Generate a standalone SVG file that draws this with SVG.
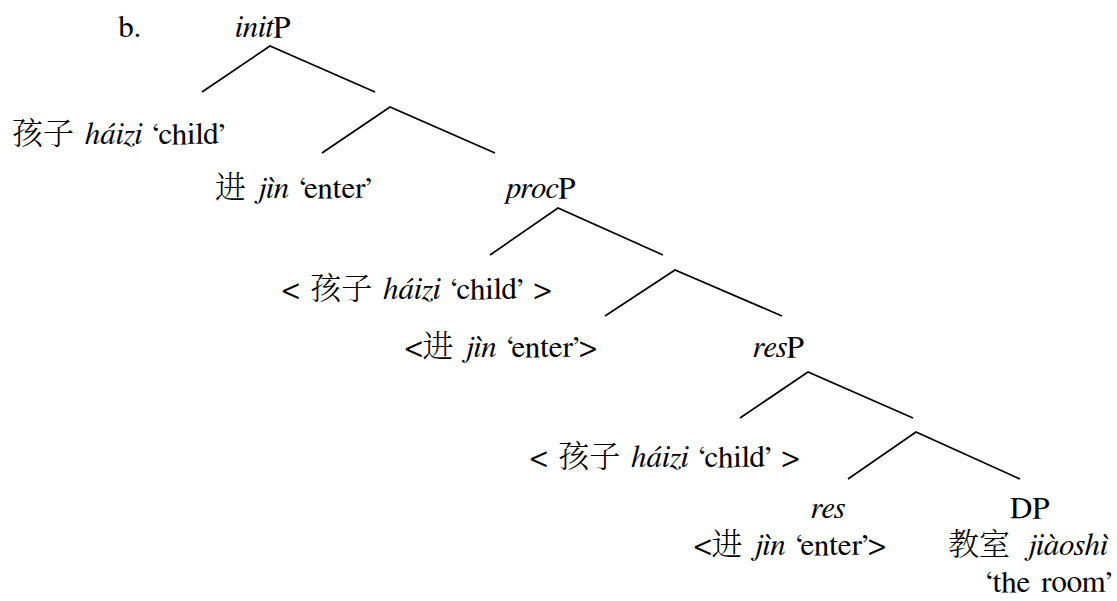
<svg xmlns="http://www.w3.org/2000/svg" width="1117" height="601" viewBox="0 0 1117 601">
<style>
text { font-family: FreeSerif, "Noto Serif", "Liberation Serif", serif; font-size: 31px; fill: #000; word-spacing: 3px; }
.i { font-style: italic; }
.zh { font-family: "Noto Serif CJK SC", "Noto Sans CJK SC", sans-serif; font-weight: 300; }
.e { stroke: #000; stroke-width: 1.7; fill: none; }
</style>
<rect width="1117" height="601" fill="#fff"/>
<g id="connectors">
  <polyline class="e" points="202,92 270,46 375,92"/>
  <polyline class="e" points="322,153 390,107 495,153"/>
  <polyline class="e" points="490,255 558,208 663,255"/>
  <polyline class="e" points="605,316 675,270 782,316"/>
  <polyline class="e" points="740,418 808,372 913,418"/>
  <polyline class="e" points="848,479 916,432 1020,479"/>
</g>
<g id="label-b"><text x="118" y="37">b.</text></g>
<g id="initP"><text x="235" y="37"><tspan class="i">init</tspan>P</text></g>
<g id="spec1"><text x="12" y="144"><tspan class="zh">孩子</tspan> <tspan class="i">háizi</tspan> ‘child’</text></g>
<g id="init-head"><text x="215" y="198"><tspan class="zh">进</tspan> <tspan class="i">jìn</tspan> ‘enter’</text></g>
<g id="procP"><text x="506" y="198"><tspan class="i">proc</tspan>P</text></g>
<g id="spec2"><text x="282" y="299">&lt; <tspan class="zh">孩子</tspan> <tspan class="i">háizi</tspan> ‘child’ &gt;</text></g>
<g id="proc-head"><text x="405" y="357">&lt;<tspan class="zh">进</tspan> <tspan class="i">jìn</tspan> ‘enter’&gt;</text></g>
<g id="resP"><text x="753" y="357"><tspan class="i">res</tspan>P</text></g>
<g id="spec3"><text x="530" y="467">&lt; <tspan class="zh">孩子</tspan> <tspan class="i">háizi</tspan> ‘child’ &gt;</text></g>
<g id="res-head">
  <text x="811" y="518" class="i">res</text>
  <text x="694" y="555">&lt;<tspan class="zh">进</tspan> <tspan class="i">jìn</tspan> ‘enter’&gt;</text>
</g>
<g id="DP">
  <text x="1010" y="518">DP</text>
  <text x="948" y="555"><tspan class="zh">教室</tspan> <tspan class="i" dx="6">jiàoshì</tspan></text>
  <text x="1112" y="592" text-anchor="end">‘the room’</text>
</g>
</svg>
